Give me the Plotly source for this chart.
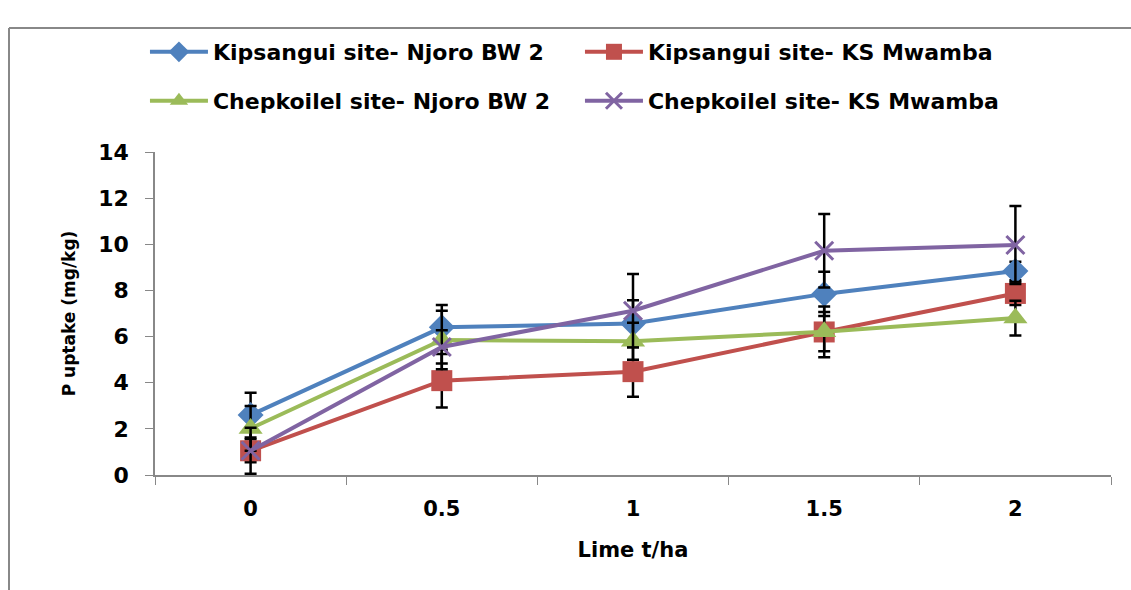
import plotly.graph_objects as go

lime = ["0", "0.5", "1", "1.5", "2"]

kip_njoro = [2.6, 6.4, 6.57, 7.85, 8.84]
kip_njoro_err = [0.97, 0.97, 1.0, 0.96, 0.4]

kip_ks = [1.05, 4.09, 4.48, 6.2, 7.87]
kip_ks_err = [0.5, 1.16, 1.09, 1.1, 0.5]

chep_njoro = [2.02, 5.85, 5.8, 6.21, 6.8]
chep_njoro_err = [0.97, 1.27, 0.8, 0.85, 0.75]

chep_ks = [1.05, 5.55, 7.12, 9.72, 9.97]
chep_ks_err = [1.0, 0.72, 1.59, 1.59, 1.69]

FONT = "DejaVu Sans"

series = [
    ("Kipsangui site- Njoro BW 2", kip_njoro, kip_njoro_err, "#4F81BD", "diamond", 20, "legend"),
    ("Kipsangui site- KS Mwamba", kip_ks, kip_ks_err, "#C0504D", "square", 21, "legend"),
    ("Chepkoilel site- Njoro BW 2", chep_njoro, chep_njoro_err, "#9BBB59", "triangle-up", 21, "legend2"),
    ("Chepkoilel site- KS Mwamba", chep_ks, chep_ks_err, "#8064A2", "x-thin", 18, "legend2"),
]

fig = go.Figure()
for name, vals, errs, color, sym, size, leg in series:
    marker = dict(symbol=sym, size=size, color=color)
    if sym == "x-thin":
        marker["line"] = dict(color=color, width=3)
    fig.add_trace(go.Scatter(
        x=lime, y=vals, name=name, mode="lines+markers",
        line=dict(color=color, width=4),
        marker=marker,
        error_y=dict(type="data", array=errs, visible=True, color="black", thickness=2.5, width=6),
        legend=leg,
    ))

legend_common = dict(
    orientation="h", xanchor="left", yanchor="middle",
    entrywidth=362, entrywidthmode="pixels",
    font=dict(family=FONT, size=22, color="black", weight="bold"),
    bgcolor="rgba(0,0,0,0)", itemwidth=58,
)

fig.update_layout(
    width=1131, height=590,
    margin=dict(l=155, r=20, t=152, b=115),
    paper_bgcolor="white", plot_bgcolor="white",
    showlegend=True,
    legend=dict(x=-0.0105, y=(475 - 52) / 323, **legend_common),
    legend2=dict(x=-0.0105, y=(475 - 101) / 323, **legend_common),
    xaxis=dict(
        type="category", range=[-0.5, 4.5],
        tickson="boundaries", ticks="outside", ticklen=8, tickcolor="#888888",
        showline=True, linecolor="#888888", linewidth=1.5, showgrid=False, zeroline=False,
        tickfont=dict(family=FONT, size=21, color="black", weight="bold"),
        ticklabelstandoff=14,
        title=dict(text="Lime t/ha", font=dict(family=FONT, size=21, color="black", weight="bold"), standoff=22),
    ),
    yaxis=dict(
        range=[0, 14], dtick=2, ticks="outside", ticklen=8, tickcolor="#888888",
        showline=True, linecolor="#888888", linewidth=1.5, showgrid=False, zeroline=False,
        tickfont=dict(family=FONT, size=22, color="black", weight="bold"),
        ticklabelstandoff=12,
        title=dict(text="P uptake (mg/kg)", font=dict(family=FONT, size=17, color="black", weight="bold"), standoff=18),
    ),
    shapes=[
        dict(type="line", xref="paper", yref="paper", x0=(9 - 155) / 956, x1=(1140 - 155) / 956,
             y0=(475 - 28) / 323, y1=(475 - 28) / 323, line=dict(color="#888888", width=2)),
        dict(type="line", xref="paper", yref="paper", x0=(9 - 155) / 956, x1=(9 - 155) / 956,
             y0=(475 - 28) / 323, y1=(475 - 600) / 323, line=dict(color="#888888", width=2)),
    ],
)

fig.write_html("out.html")
